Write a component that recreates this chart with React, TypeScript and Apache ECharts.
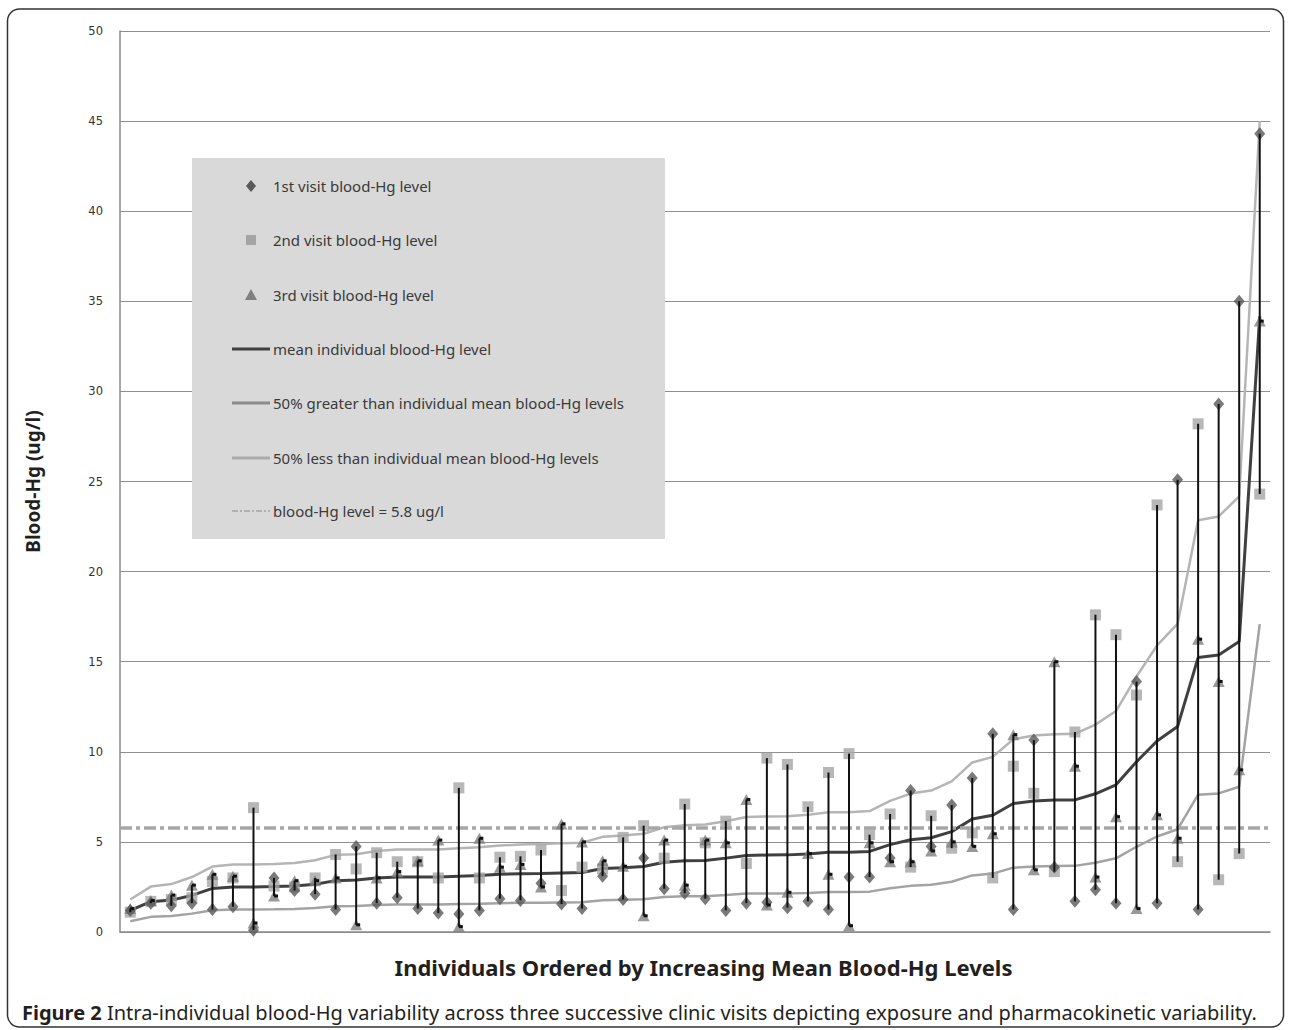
import React, { useEffect, useRef } from "react";
import * as echarts from "echarts";

const individuals = [
  "1", "2", "3", "4", "5", "6", "7", "8", "9", "10", "11", "12", "13", "14",
  "15", "16", "17", "18", "19", "20", "21", "22", "23", "24", "25", "26", "27", "28",
  "29", "30", "31", "32", "33", "34", "35", "36", "37", "38", "39", "40", "41", "42",
  "43", "44", "45", "46", "47", "48", "49", "50", "51", "52", "53", "54", "55", "56",
];

const firstVisit = [
  1.2, 1.6, 1.45, 1.6, 1.25, 1.4, 0.1, 3.0, 2.3, 2.1, 1.25, 4.75, 1.6, 1.9,
  1.3, 1.05, 1.0, 1.2, 1.85, 1.75, 2.7, 1.55, 1.3, 3.1, 1.8, 4.1, 2.4, 2.15,
  1.85, 1.2, 1.6, 1.65, 1.35, 1.7, 1.25, 3.05, 3.05, 4.1, 7.85, 4.75, 7.05, 8.55,
  11.0, 1.25, 10.65, 3.6, 1.7, 2.35, 1.6, 13.9, 1.6, 25.1, 1.25, 29.3, 35.0, 44.3,
];

const secondVisit = [
  1.1, 1.7, 1.8, 1.9, 2.8, 3.0, 6.9, 2.55, 2.5, 3.0, 4.3, 3.5, 4.4, 3.9,
  3.9, 3.0, 8.0, 3.0, 4.15, 4.2, 4.55, 2.3, 3.6, 3.5, 5.25, 5.9, 4.1, 7.1,
  4.95, 6.15, 3.8, 9.65, 9.3, 6.95, 8.85, 9.9, 5.4, 6.55, 3.6, 6.45, 4.65, 5.5,
  3.0, 9.2, 7.7, 3.35, 11.1, 17.6, 16.5, 13.15, 23.7, 3.9, 28.2, 2.9, 4.35, 24.3,
];

const thirdVisit = [
  1.3, 1.75, 2.05, 2.6, 3.2, 3.1, 0.5, 2.0, 2.85, 2.85, 3.0, 0.4, 3.0, 3.35,
  3.95, 5.1, 0.3, 5.2, 3.6, 3.75, 2.5, 6.0, 5.0, 3.95, 3.65, 0.9, 5.1, 2.6,
  5.1, 4.95, 7.35, 1.5, 2.2, 4.35, 3.2, 0.35, 4.95, 3.9, 3.9, 4.5, 5.0, 4.75,
  5.45, 10.95, 3.45, 15.0, 9.2, 3.05, 6.4, 1.3, 6.5, 5.2, 16.25, 13.9, 9.0, 33.9,
];

const meanLevel = [
  1.2, 1.68, 1.77, 2.03, 2.42, 2.5, 2.5, 2.52, 2.55, 2.65, 2.85, 2.88, 3.0, 3.05,
  3.05, 3.05, 3.1, 3.13, 3.2, 3.23, 3.25, 3.28, 3.3, 3.52, 3.57, 3.63, 3.87, 3.95,
  3.97, 4.1, 4.25, 4.27, 4.28, 4.33, 4.43, 4.43, 4.47, 4.85, 5.12, 5.23, 5.57, 6.27,
  6.48, 7.13, 7.27, 7.32, 7.33, 7.67, 8.17, 9.45, 10.6, 11.4, 15.23, 15.37, 16.12, 34.17,
];

const upperLevel = [
  1.8, 2.52, 2.66, 3.05, 3.63, 3.75, 3.75, 3.78, 3.83, 3.98, 4.28, 4.32, 4.5, 4.58,
  4.58, 4.58, 4.65, 4.7, 4.8, 4.85, 4.88, 4.92, 4.95, 5.28, 5.36, 5.45, 5.81, 5.93,
  5.96, 6.15, 6.38, 6.41, 6.42, 6.5, 6.65, 6.65, 6.71, 7.28, 7.68, 7.85, 8.36, 9.41,
  9.72, 10.7, 10.91, 10.98, 11.0, 11.51, 12.26, 14.18, 15.9, 17.1, 22.85, 23.06, 24.18, 45.0,
];

const lowerLevel = [
  0.6, 0.84, 0.89, 1.02, 1.21, 1.25, 1.25, 1.26, 1.28, 1.33, 1.43, 1.44, 1.5, 1.53,
  1.53, 1.53, 1.55, 1.57, 1.6, 1.62, 1.63, 1.64, 1.65, 1.76, 1.79, 1.82, 1.94, 1.98,
  1.99, 2.05, 2.13, 2.14, 2.14, 2.17, 2.22, 2.22, 2.24, 2.43, 2.56, 2.62, 2.79, 3.14,
  3.24, 3.57, 3.64, 3.66, 3.67, 3.84, 4.09, 4.73, 5.3, 5.7, 7.62, 7.69, 8.06, 17.09,
];

const referenceLevel = 5.8;
const yMin = 0;
const yMax = 50;
const yInterval = 5;

const legendLabels = [
  "1st visit blood-Hg level",
  "2nd visit blood-Hg level",
  "3rd visit blood-Hg level",
  "mean individual blood-Hg level",
  "50% greater than individual mean blood-Hg levels",
  "50% less than individual mean blood-Hg levels",
  "blood-Hg level = 5.8 ug/l",
];

const xTitle = "Individuals Ordered by Increasing Mean Blood-Hg Levels";
const yTitle = "Blood-Hg (ug/l)";
const captionBold = "Figure 2";
const captionText =
  " Intra-individual blood-Hg variability across three successive clinic visits depicting exposure and pharmacokinetic variability.";

const FONT = "Noto Sans";

export default function App() {
  const ref = useRef<HTMLDivElement>(null);

  useEffect(() => {
    if (!ref.current) return;
    const chart = echarts.init(ref.current, null, { renderer: "svg" });

    const hiLo = individuals.map((_, i) => {
      const v = [firstVisit[i], secondVisit[i], thirdVisit[i]];
      return [i, Math.min(...v), Math.max(...v), thirdVisit[i]];
    });

    const lx = 251;
    const ys = [186, 240, 295, 349, 403, 458, 511];
    const legendGraphics: any[] = [
      {
        type: "rect",
        shape: { x: 192, y: 158, width: 473, height: 381 },
        style: { fill: "#d9d9d9" },
        z: 50,
      },
      {
        type: "polygon",
        shape: { points: [[lx, ys[0] - 6], [lx + 5, ys[0]], [lx, ys[0] + 6], [lx - 5, ys[0]]] },
        style: { fill: "#5a5a5a" },
        z: 51,
      },
      {
        type: "rect",
        shape: { x: lx - 5, y: ys[1] - 5, width: 10, height: 10 },
        style: { fill: "#a5a5a5" },
        z: 51,
      },
      {
        type: "polygon",
        shape: { points: [[lx, ys[2] - 6], [lx + 6, ys[2] + 5], [lx - 6, ys[2] + 5]] },
        style: { fill: "#808080" },
        z: 51,
      },
      {
        type: "line",
        shape: { x1: 232, y1: ys[3], x2: 270, y2: ys[3] },
        style: { stroke: "#404040", lineWidth: 3 },
        z: 51,
      },
      {
        type: "line",
        shape: { x1: 232, y1: ys[4], x2: 270, y2: ys[4] },
        style: { stroke: "#8c8c8c", lineWidth: 3 },
        z: 51,
      },
      {
        type: "line",
        shape: { x1: 232, y1: ys[5], x2: 270, y2: ys[5] },
        style: { stroke: "#ababab", lineWidth: 3 },
        z: 51,
      },
      {
        type: "line",
        shape: { x1: 232, y1: ys[6], x2: 270, y2: ys[6] },
        style: { stroke: "#b0b0b0", lineWidth: 2, lineDash: [6, 2, 2, 2] },
        z: 51,
      },
      ...legendLabels.map((t, i) => ({
        type: "text",
        x: 273,
        y: ys[i],
        style: {
          text: t,
          fontSize: 15,
          fontFamily: FONT,
          fill: "#3a3a3a",
          verticalAlign: "middle",
        },
        z: 52,
      })),
    ];

    chart.setOption({
      animation: false,
      backgroundColor: "#ffffff",
      grid: { left: 120, right: 20, top: 31, bottom: 98, containLabel: false },
      xAxis: {
        type: "category",
        data: individuals,
        boundaryGap: true,
        axisLine: { lineStyle: { color: "#8a8a8a", width: 1.5 } },
        axisTick: { show: false },
        axisLabel: { show: false },
        splitLine: { show: false },
        name: xTitle,
        nameLocation: "middle",
        nameGap: 24,
        nameTextStyle: {
          fontFamily: FONT,
          fontSize: 22,
          fontWeight: "bold",
          color: "#231f20",
          padding: [0, 0, 0, 17],
        },
      },
      yAxis: {
        type: "value",
        min: yMin,
        max: yMax,
        interval: yInterval,
        axisLine: { show: true, lineStyle: { color: "#8a8a8a", width: 1.5 } },
        axisTick: { show: false },
        axisLabel: {
          fontFamily: "DejaVu Sans",
          fontSize: 11.5,
          color: "#333333",
          margin: 17,
        },
        splitLine: { lineStyle: { color: "#8f8f8f", width: 1 } },
        name: yTitle,
        nameLocation: "middle",
        nameRotate: 90,
        nameGap: 78,
        nameTextStyle: {
          fontFamily: FONT,
          fontSize: 19,
          fontWeight: "bold",
          color: "#231f20",
        },
      },
      series: [
        {
          name: "50% less than individual mean blood-Hg levels",
          type: "line",
          data: lowerLevel,
          symbol: "none",
          lineStyle: { color: "#a3a3a3", width: 2.5 },
          z: 2,
          markLine: {
            silent: true,
            symbol: "none",
            label: { show: false },
            lineStyle: { color: "#a6a6a6", width: 3.5, type: [12, 4, 4, 4] },
            data: [{ yAxis: referenceLevel }],
          },
        },
        {
          name: "50% greater than individual mean blood-Hg levels",
          type: "line",
          data: upperLevel,
          symbol: "none",
          lineStyle: { color: "#b5b5b5", width: 2.5 },
          z: 2,
        },
        {
          name: "mean individual blood-Hg level",
          type: "line",
          data: meanLevel,
          symbol: "none",
          lineStyle: { color: "#404040", width: 3 },
          z: 3,
        },
        {
          name: "2nd visit blood-Hg level",
          type: "scatter",
          data: secondVisit,
          symbol: "rect",
          symbolSize: 11,
          itemStyle: { color: "#a5a5a5" },
          z: 4,
        },
        {
          name: "3rd visit blood-Hg level",
          type: "scatter",
          data: thirdVisit,
          symbol: "triangle",
          symbolSize: [12, 11],
          itemStyle: { color: "#7f7f7f" },
          z: 5,
        },
        {
          name: "1st visit blood-Hg level",
          type: "scatter",
          data: firstVisit,
          symbol: "diamond",
          symbolSize: [11, 13],
          itemStyle: { color: "#595959" },
          z: 6,
        },
        {
          name: "high-low",
          type: "custom",
          data: hiLo,
          encode: { x: 0, y: [1, 2, 3] },
          z: 7,
          silent: true,
          renderItem: (params: any, api: any) => {
            const idx = api.value(0);
            const lo = api.coord([idx, api.value(1)]);
            const hi = api.coord([idx, api.value(2)]);
            const cl = api.coord([idx, api.value(3)]);
            return {
              type: "group",
              children: [
                {
                  type: "line",
                  shape: { x1: lo[0], y1: lo[1], x2: hi[0], y2: hi[1] },
                  style: { stroke: "#111111", lineWidth: 2 },
                },
                {
                  type: "rect",
                  shape: { x: cl[0], y: cl[1] - 1.5, width: 4, height: 3 },
                  style: { fill: "#111111" },
                },
              ],
            };
          },
        },
      ],
      graphic: [
        {
          type: "rect",
          shape: { x: 7.5, y: 9, width: 1276, height: 1018, r: 12 },
          style: { fill: "none", stroke: "#333333", lineWidth: 1.5 },
          z: 60,
        },
        {
          type: "text",
          x: 22,
          y: 1012,
          style: {
            text: "{b|" + captionBold + "}" + captionText,
            fontSize: 20,
            fontFamily: FONT,
            fill: "#231f20",
            verticalAlign: "middle",
            rich: {
              b: { fontSize: 20, fontFamily: FONT, fontWeight: "bold", fill: "#231f20" },
            },
          },
          z: 60,
        },
        ...legendGraphics,
      ],
    });

    return () => chart.dispose();
  }, []);

  return (
    <div
      ref={ref}
      style={{
        position: "fixed",
        left: 0,
        top: 0,
        width: 1290,
        height: 1030,
        background: "#ffffff",
      }}
    />
  );
}
